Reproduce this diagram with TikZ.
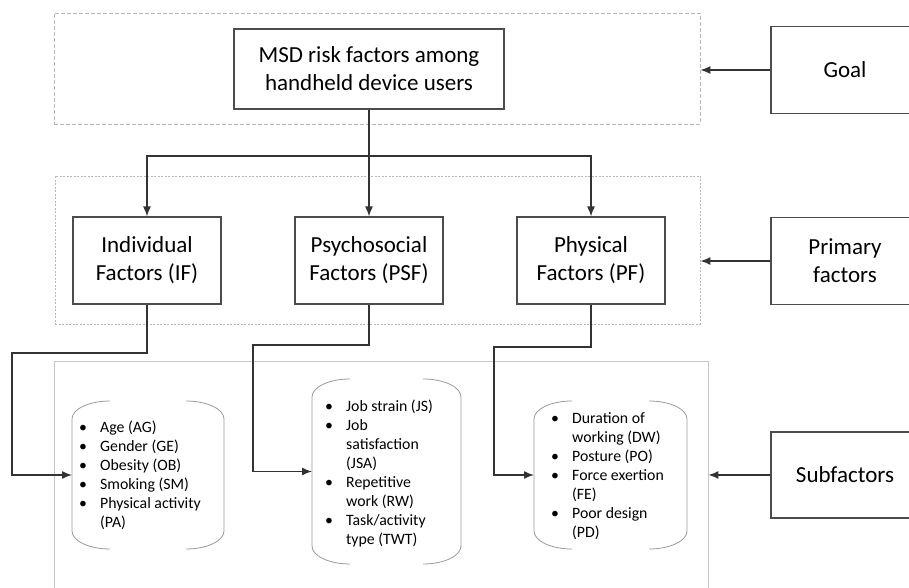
\documentclass[tikz,border=0pt]{standalone}
\usepackage{fontspec}
\setmainfont{Carlito}
\usetikzlibrary{calc, arrows.meta}
\definecolor{boxline}{gray}{0.3}
\definecolor{zoneline}{gray}{0.72}
\definecolor{scrollgray}{gray}{0.6}
\tikzstyle{blk}=[draw=boxline, line width=1.1pt, minimum width=148pt, minimum height=87pt, align=center, font=\fontsize{23}{28}\selectfont]
\tikzstyle{zone}=[draw=zoneline, line width=0.8pt, dash pattern=on 4pt off 2pt]
\tikzstyle{lst}=[outer sep=0pt, minimum width=152pt, minimum height=148pt]
\tikzstyle{lsttext}=[anchor=west, inner sep=0pt, align=left, font=\fontsize{15.8}{19}\selectfont]
\tikzstyle{wire}=[black!80, line width=1.4pt]
\tikzstyle{scrollline}=[draw=scrollgray, line width=0.8pt]
\newcommand{\bul}{\makebox[21pt][l]{\textbullet}}
\newcommand{\cont}{\hspace*{21pt}}
\newcommand{\scrollframe}[1]{%
  \draw[scrollline] ([xshift=38pt]#1.north west) arc[start angle=90, end angle=180, x radius=38pt, y radius=18pt] -- ([yshift=18pt]#1.south west) arc[start angle=180, end angle=270, x radius=38pt, y radius=18pt];
  \draw[scrollline] ([xshift=-38pt]#1.north east) arc[start angle=90, end angle=0, x radius=38pt, y radius=18pt] -- ([yshift=18pt]#1.south east) arc[start angle=0, end angle=-90, x radius=38pt, y radius=18pt];
}

\begin{document}
\begin{tikzpicture}[x=1pt, y=1pt, node distance=222pt, >={Latex[length=10pt,width=8pt]}]
        \useasboundingbox (0,0) rectangle (909,588);
        \clip (0,0) rectangle (909,588);
        \node [zone, minimum width=646pt, minimum height=111pt] (goalzone) at (377,519.5) {};
        \node [zone, dash pattern=on 2pt off 1.5pt, minimum width=645pt, minimum height=148pt] (primzone) at (377.5,338) {};
        \node [draw=zoneline!80, line width=0.8pt, minimum width=654pt, minimum height=250pt] (subzone) at (381,102) {};
        \node [blk, minimum width=270pt, minimum height=80pt] (msd) at (369,519) {MSD risk factors among\\handheld device users};
        \node [blk] (psf) at (369,327.5) {Psychosocial\\Factors (PSF)};
        \node [blk] (if) [left of=psf] {Individual\\Factors (IF)};
        \node [blk] (pf) [right of=psf] {Physical\\Factors (PF)};
        \node [blk] (goal) at (845,518) {Goal};
        \node [blk] (prim) at (845,327) {Primary\\factors};
        \node [blk, minimum height=86pt] (sub) at (845,113) {Subfactors};
        \node [lst] (ifl) at (148,113) {};
        \node [lst, minimum width=149pt, minimum height=185pt] (psfl) at (386.5,116.5) {};
        \node [lst, minimum width=153pt] (pfl) at (610.5,113) {};
        \node [lsttext] (iftext) at ([xshift=7pt]ifl.west) {\bul Age (AG)\\\bul Gender (GE)\\\bul Obesity (OB)\\\bul Smoking (SM)\\\bul Physical activity\\\cont(PA)};
        \node [lsttext] (psftext) at ([xshift=13pt,yshift=-1.5pt]psfl.west) {\bul Job strain (JS)\\\bul Job\\\cont satisfaction\\\cont(JSA)\\\bul Repetitive\\\cont work (RW)\\\bul Task/activity\\\cont type (TWT)};
        \node [lsttext] (pftext) at ([xshift=17pt,yshift=-1.5pt]pfl.west) {\bul Duration of\\\cont working (DW)\\\bul Posture (PO)\\\bul Force exertion\\\cont(FE)\\\bul Poor design\\\cont(PD)};
        \scrollframe{ifl}
        \scrollframe{psfl}
        \scrollframe{pfl}
        \coordinate (split) at (369,432);
        \coordinate (ifbend) at (12,235);
        \coordinate (psfbend) at (253,243);
        \coordinate (pfbend) at (494,241);
        \draw[wire] (msd.south) -- (split);
        \draw[wire,->] (split) -| (if.north);
        \draw[wire,->] (split) -- (psf.north);
        \draw[wire,->] (split) -| (pf.north);
        \draw[wire,->] (if.south) |- (ifbend) |- (ifl.west);
        \draw[wire,->] (psf.south) |- (psfbend) |- (psfl.west);
        \draw[wire,->] (pf.south) |- (pfbend) |- (pfl.west);
        \draw[wire,->] (goal.west) -- (goal.west -| goalzone.east);
        \draw[wire,->] (prim.west) -- (prim.west -| primzone.east);
        \draw[wire,->] (sub.west) -- (sub.west -| subzone.east);
    \end{tikzpicture}
\end{document}
